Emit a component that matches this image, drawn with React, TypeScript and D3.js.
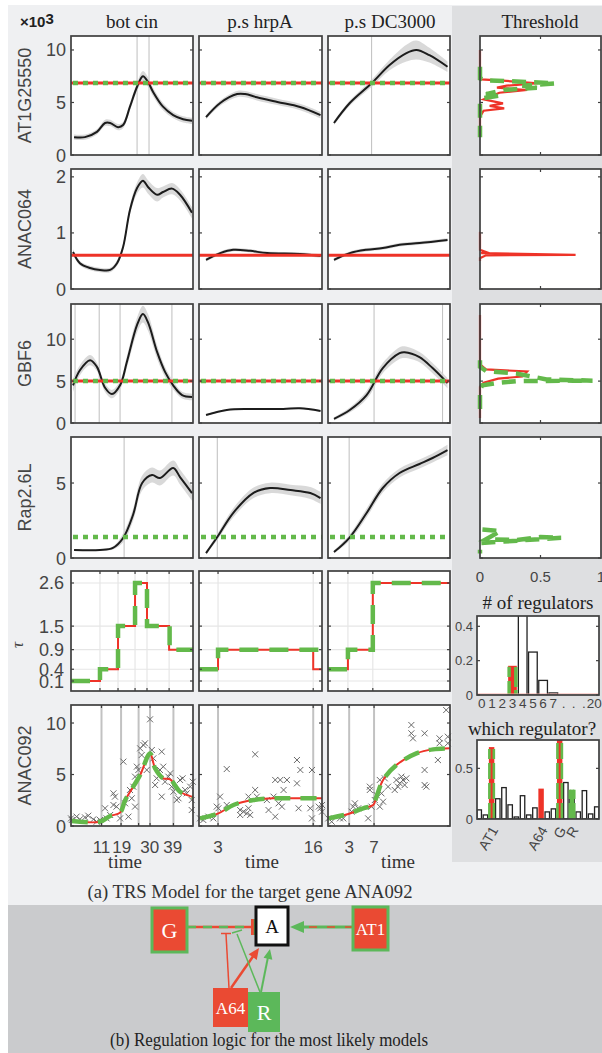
import React from 'react';
import * as d3 from 'd3';

// ------------------------------------------------------------------ data
const conditions = ['bot cin', 'p.s hrpA', 'p.s DC3000'];
const geneNames = ['AT1G25550', 'ANAC064', 'GBF6', 'Rap2.6L'];
const targetName = 'ANAC092';
const timeDomains: [number, number][] = [[-1, 47], [0.4, 17.2], [-0.4, 19.2]];

const geneYDomains: [number, number][] = [[0, 11.33], [0, 2.14], [0, 14.2], [0, 8.07]];
const geneYTicks = [[0, 5, 10], [0, 1, 2], [0, 5, 10], [0, 5]];

// [time, mean, half-width of band]
const at1Expr = [
  [[0.2, 1.7, 0.25], [4.5, 1.7, 0.25], [9.2, 2.2, 0.25], [12.4, 3.05, 0.3], [14.4, 3.05, 0.3], [17.5, 2.65, 0.3], [19.5, 2.85, 0.3], [22.2, 4.6, 0.35], [25, 6.5, 0.4], [27.3, 7.5, 0.5], [29.3, 6.95, 0.45], [31.3, 6.0, 0.4], [35.2, 4.6, 0.35], [39.2, 3.8, 0.3], [43.1, 3.4, 0.3], [46.6, 3.25, 0.3]],
  [[1.36, 3.6, 0.2], [3.3, 4.95, 0.25], [5.6, 5.8, 0.3], [6.7, 5.8, 0.3], [8.3, 5.5, 0.3], [11.1, 5.05, 0.3], [14.2, 4.57, 0.3], [17, 3.8, 0.3]],
  [[0.56, 3.05, 0.2], [3.1, 4.95, 0.25], [6.64, 6.85, 0.35], [9.5, 8.57, 0.5], [12.2, 9.7, 0.8], [13.8, 10.0, 0.9], [15.9, 9.5, 0.7], [18.8, 8.4, 0.5]],
];
const anac064Expr = [
  [[-0.2, 0.66, 0.05], [2.5, 0.46, 0.04], [6.5, 0.375, 0.04], [10.4, 0.34, 0.04], [14.4, 0.34, 0.04], [17.1, 0.46, 0.05], [19.5, 0.75, 0.06], [22.2, 1.41, 0.08], [25, 1.8, 0.1], [27.3, 1.93, 0.12], [29.3, 1.82, 0.12], [32.9, 1.68, 0.12], [35.2, 1.73, 0.1], [38.8, 1.79, 0.1], [41.9, 1.68, 0.1], [46.6, 1.36, 0.1]],
  [[1.36, 0.52, 0.03], [3.3, 0.64, 0.03], [5.06, 0.7, 0.03], [7.4, 0.68, 0.03], [9.7, 0.64, 0.03], [14.2, 0.625, 0.03], [17, 0.59, 0.03]],
  [[0.56, 0.52, 0.03], [3.1, 0.64, 0.03], [5.8, 0.7, 0.03], [8.4, 0.73, 0.03], [11.1, 0.79, 0.03], [14.3, 0.82, 0.03], [18.8, 0.875, 0.03]],
];
const gbf6Expr = [
  [[-0.2, 4.5, 0.8], [2.5, 6.3, 0.6], [6.5, 7.5, 0.6], [9.2, 6.7, 0.5], [12.4, 4.2, 0.5], [15.1, 3.45, 0.5], [18.3, 4.5, 0.5], [21, 7.3, 0.7], [25, 11.7, 0.9], [27.3, 13.0, 1.0], [29.3, 12.0, 1.0], [32.9, 8.45, 0.8], [36, 6.1, 0.6], [39.2, 4.5, 0.5], [42.7, 3.33, 0.4], [46.6, 3.1, 0.4]],
  [[1.36, 0.95, 0.1], [4.2, 1.55, 0.1], [7.4, 1.67, 0.1], [11.9, 1.67, 0.1], [14.2, 1.75, 0.1], [17, 1.43, 0.1]],
  [[0.56, 0.5, 0.2], [3.1, 1.55, 0.3], [5.8, 3.33, 0.5], [8.4, 6.55, 0.6], [11.1, 8.33, 0.7], [11.9, 8.45, 0.7], [14.3, 7.86, 0.6], [16.4, 6.55, 0.6], [18.8, 4.76, 0.6]],
];
const rap26Expr = [
  [[0.2, 0.53, 0.05], [10.4, 0.53, 0.05], [15.5, 0.67, 0.1], [19.5, 1.33, 0.3], [23.4, 2.87, 0.4], [27, 5.0, 0.5], [30.9, 5.53, 0.5], [34, 5.33, 0.5], [39.2, 6.0, 0.5], [41.9, 5.4, 0.5], [46.6, 4.33, 0.5]],
  [[1.36, 0.33, 0.1], [2.9, 1.4, 0.2], [5.06, 3.0, 0.3], [7.8, 4.33, 0.35], [10.1, 4.67, 0.35], [12.9, 4.53, 0.35], [15.6, 4.33, 0.4], [17, 4.0, 0.4]],
  [[0.56, 0.4, 0.1], [3, 1.33, 0.2], [5.8, 3.0, 0.3], [8.4, 4.67, 0.3], [11.1, 5.67, 0.3], [14.3, 6.27, 0.3], [16.4, 6.67, 0.3], [18.8, 7.2, 0.35]],
];

const geneThresholds = [6.85, 0.6, 5.0, 1.4];
const thrRedShown = [true, true, true, false];
const thrGreenShown = [true, false, true, true];

const at1Switch = [[25, 29.7], [], [6.6]];
const anac064Switch = [[], [], []];
const gbf6Switch = [[0.6, 10.1, 18.3, 38.7], [], [7, 18]];
const rap26Switch = [[19.9], [2.9], [3]];

// threshold posterior profiles: [density, threshold value]
const thrProfileRed = [
  [[0, 10], [0, 7.46], [0.01, 7.2], [0.22, 7.05], [0.48, 6.83], [0.22, 6.6], [0.14, 6.41], [0.39, 6.19], [0.16, 5.93], [0.08, 5.55], [0.03, 5.3], [0.19, 4.92], [0.08, 4.67], [0.2, 4.44], [0.03, 4.22], [0, 3.65], [0, 1.74]],
  [[0, 1.02], [0, 0.7], [0.05, 0.66], [0.01, 0.64], [0.79, 0.61], [0.05, 0.6], [0.02, 0.57], [0, 0.55], [0, 0.5]],
  [[0, 12.9], [0, 7.0], [0.05, 6.4], [0.39, 6.15], [0.35, 5.55], [0.15, 5.3], [0.03, 4.8], [0, 4.3], [0, 0.6]],
  [],
];
const thrProfileGreen = [
  [[0, 8.4], [0, 7.3], [0.05, 7.1], [0.3, 7.0], [0.62, 6.82], [0.35, 6.6], [0.47, 6.4], [0.2, 6.2], [0.05, 5.8], [0.15, 5.65], [0.02, 5.4], [0, 5.0], [0, 1.7]],
  [],
  [[0, 7.5], [0, 6.7], [0.05, 6.2], [0.3, 5.9], [0.55, 5.2], [0.93, 5.05], [0.3, 5.0], [0.15, 4.8], [0.02, 4.5], [0, 4.0], [0, 1.5]],
  [[0.02, 1.9], [0.17, 1.8], [0.05, 1.25], [0.3, 1.2], [0.5, 1.4], [0.67, 1.35], [0.2, 1.1], [0, 1.0], [0, 0.3]],
];
const thrTicks = [0, 0.5, 1];

const tauTicks = [0.1, 0.4, 0.9, 1.5, 2.6];
const tauRed = [
  [[-1, 0.1], [10.4, 0.4], [17.5, 1.5], [24.2, 2.6], [28.9, 1.5], [37.6, 0.9], [47, 0.9]],
  [[0.4, 0.4], [3, 0.9], [16, 0.4], [17.2, 0.4]],
  [[-0.4, 0.4], [2.8, 0.9], [6.8, 2.6], [19.2, 2.6]],
];
const tauGreen = [
  [[-1, 0.1], [10.4, 0.4], [17.5, 1.5], [24.2, 2.6], [28.9, 1.5], [37.8, 0.9], [47, 0.9]],
  [[0.4, 0.4], [3, 0.9], [17.2, 0.9]],
  [[-0.4, 0.4], [2.8, 0.9], [6.8, 2.6], [19.2, 2.6]],
];
const tauSwitch = [[10.4, 17.5, 24.2, 28.9, 37.6], [3, 16], [2.8, 6.8]];

const targetObs = [
  [[-1, 0.74], [-0.7, 0.58], [1.2, 0.91], [2.5, 0.65], [4.5, 0.84], [5.8, 1.0], [7.8, 0.65], [9.1, 0.42], [10.4, 0.58], [12.4, 1.72], [13.0, 0.74], [14.4, 1.07], [15.7, 2.04], [16.3, 2.85], [15.7, 3.17], [16.9, 1.88], [18.3, 0.74], [19.6, 6.25], [20.3, 2.2], [21.6, 0.91], [22.2, 3.5], [22.9, 2.69], [23.5, 3.82], [24.2, 1.88], [24.2, 4.79], [24.9, 5.76], [25.5, 5.44], [26.2, 7.54], [26.8, 6.89], [27.5, 7.86], [28.1, 8.03], [28.8, 5.44], [30.1, 10.36], [30.8, 7.38], [31.4, 6.57], [32.1, 3.98], [32.7, 4.63], [34.0, 5.44], [34.7, 7.22], [34.7, 2.85], [35.3, 5.76], [36.0, 4.3], [37.3, 4.79], [38.0, 5.11], [38.6, 3.82], [39.3, 3.33], [40.6, 2.52], [41.3, 2.69], [41.9, 4.47], [42.9, 4.63], [43.9, 3.5], [44.5, 3.17], [45.9, 3.82], [46.5, 1.55], [46.5, 2.52], [46.9, 4.3]],
  [[0.54, 0.74], [0.99, 0.58], [1.68, 0.91], [2.36, 0.74], [2.82, 1.88], [3.05, 1.72], [3.28, 2.85], [4.19, 5.53], [4.19, 2.04], [6.02, 1.55], [6.02, 1.07], [6.47, 1.39], [6.93, 1.23], [7.16, 1.72], [7.16, 2.85], [7.39, 1.07], [8.07, 3.5], [8.07, 6.96], [8.3, 2.85], [9.67, 2.52], [9.9, 1.55], [10.58, 2.85], [10.81, 4.47], [10.81, 0.91], [11.27, 2.2], [11.5, 4.47], [11.72, 1.88], [11.95, 3.5], [12.41, 4.47], [13.78, 6.41], [13.78, 4.14], [14.0, 1.72], [14.24, 5.44], [15.6, 1.72], [15.83, 0.74], [15.83, 5.44], [16.75, 1.88], [16.98, 1.72], [17.2, 2.04], [17.2, 1.39]],
  [[-0.35, 0.74], [0.19, 0.42], [1.52, 0.74], [2.05, 0.74], [3.39, 1.39], [3.65, 1.88], [3.92, 2.2], [4.45, 1.72], [6.05, 0.74], [6.32, 3.5], [6.32, 3.82], [6.59, 1.88], [7.12, 2.52], [7.39, 3.01], [7.92, 4.47], [7.92, 1.88], [8.19, 3.17], [8.45, 2.36], [8.72, 4.63], [9.25, 3.82], [10.32, 3.5], [10.59, 4.47], [10.85, 3.82], [11.12, 4.14], [11.39, 4.79], [11.65, 4.47], [11.92, 3.98], [12.19, 4.63], [12.99, 9.81], [12.99, 9.0], [13.25, 8.51], [15.12, 9.0], [15.12, 5.44], [15.12, 3.98], [15.39, 3.82], [17.25, 6.41], [17.52, 8.51], [17.52, 8.03], [18.59, 11.26], [18.85, 8.67], [18.85, 8.03]],
];
const targetFitRed = [
  [[-0.7, 0.49], [10.4, 0.42], [14.4, 0.97], [18.3, 1.3], [20.3, 2.5], [23.5, 3.82], [26.2, 4.95], [30.1, 7.05], [32.1, 5.6], [35.3, 4.63], [38, 4.53], [41.9, 3.33], [46.5, 2.85], [47, 2.8]],
  [[0.54, 0.74], [3.05, 1.23], [5.1, 2.04], [7.84, 2.52], [10.58, 2.69], [13.3, 2.69], [17.2, 2.69]],
  [[-0.35, 0.74], [2.85, 1.17], [5.25, 1.72], [6.85, 2.04], [7.4, 2.85], [8.45, 4.47], [10.6, 5.92], [13.8, 7.05], [16.5, 7.44], [19.2, 7.54]],
];
const targetFitGreen = targetFitRed;
const targetSwitch = [[11, 18.7, 25.6, 30.1, 39.3], [3, 16], [3, 7]];
const targetTickLabels = [[11, 19, 30, 39], [3, 16], [3, 7]];
const targetYTicks = [0, 5, 10];

const regCountLabels = ['0', '1', '2', '3', '4', '5', '6', '7', '.', '.', '.', '20'];
const regCountWhite = [0, 0, 0, 0, 0.5, 0.25, 0.085, 0.012, 0, 0, 0, 0];
const regCountRed = [0, 0, 0, 0.17, 0, 0, 0, 0, 0, 0, 0, 0];
const regCountGreen = [0, 0, 0, 0.165, 0, 0, 0, 0, 0, 0, 0, 0];
const regCountTicks = [0, 0.2, 0.4];

const regWhite = [0.09, 0.04, 0, 0.2, 0.31, 0.14, 0.02, 0.23, 0.04, 0.11, 0, 0.07, 0.1, 0, 0.36, 0.28, 0.07, 0.28, 0.05, 0.12];
const regRed = [0, 0, 0.71, 0, 0, 0, 0, 0, 0, 0, 0.3, 0, 0, 0.85, 0, 0, 0, 0, 0, 0];
const regGreen = [0, 0, 0.69, 0, 0, 0, 0, 0, 0, 0, 0, 0, 0, 0.8, 0, 0.29, 0, 0, 0, 0];
const regNames: [number, string][] = [[2, 'AT1'], [10, 'A64'], [13, 'G'], [15, 'R']];
const regTicks = [0, 0.5];

const captionA = '(a) TRS Model for the target gene ANA092';
const captionB = '(b) Regulation logic for the most likely models';

// ------------------------------------------------------------------ style / layout
const RED = '#ee3328';
const GREEN = '#63b94b';
const DRED = '#ea4a33';
const DGREEN = '#5cb85a';
const FRAME = '#3f3f3f';
const LABEL = '#454545';
const SANS = '"Liberation Sans", Arial, Helvetica, sans-serif';
const SERIF = '"Liberation Serif", "Times New Roman", serif';

const COLX: [number, number][] = [[71, 193], [199, 322], [328, 450]];
const ROWY: [number, number][] = [[36, 155], [169, 289], [304, 423], [437, 558], [571, 691], [705, 826]];
const THRX: [number, number] = [480, 601];

const geneExpr = [at1Expr, anac064Expr, gbf6Expr, rap26Expr];
const geneSwitch = [at1Switch, anac064Switch, gbf6Switch, rap26Switch];

type P = number[];

function Frame({ x0, x1, y0, y1, yt = [], xt = [] }: { x0: number; x1: number; y0: number; y1: number; yt?: number[]; xt?: number[] }) {
  return (
    <g>
      {yt.map((yy, i) => (
        <g key={'y' + i}>
          <line x1={x0} x2={x0 + 3} y1={yy} y2={yy} stroke={FRAME} strokeWidth={1.2} />
          <line x1={x1} x2={x1 - 3} y1={yy} y2={yy} stroke={FRAME} strokeWidth={1.2} />
        </g>
      ))}
      {xt.map((xx, i) => (
        <g key={'x' + i}>
          <line x1={xx} x2={xx} y1={y0} y2={y0 + 3} stroke={FRAME} strokeWidth={1.2} />
          <line x1={xx} x2={xx} y1={y1} y2={y1 - 3} stroke={FRAME} strokeWidth={1.2} />
        </g>
      ))}
      <rect x={x0} y={y0} width={x1 - x0} height={y1 - y0} fill="none" stroke={FRAME} strokeWidth={1.7} />
    </g>
  );
}

function GenePanel({ row, col }: { row: number; col: number }) {
  const [x0, x1] = COLX[col];
  const [y0, y1] = ROWY[row];
  const x = d3.scaleLinear().domain(timeDomains[col]).range([x0, x1]);
  const y = d3.scaleLinear().domain(geneYDomains[row]).range([y1, y0]);
  const data = geneExpr[row][col] as P[];
  const line = d3.line<P>().x(d => x(d[0])).y(d => y(d[1])).curve(d3.curveCatmullRom);
  const area = d3.area<P>().x(d => x(d[0])).y0(d => y(d[1] - d[2])).y1(d => y(d[1] + d[2])).curve(d3.curveCatmullRom);
  const id = `cg${row}${col}`;
  const thr = geneThresholds[row];
  return (
    <g>
      <defs>
        <clipPath id={id}><rect x={x0} y={y0} width={x1 - x0} height={y1 - y0} /></clipPath>
      </defs>
      <rect x={x0} y={y0} width={x1 - x0} height={y1 - y0} fill="#fff" />
      <g clipPath={`url(#${id})`}>
        {geneSwitch[row][col].map((t, i) => (
          <line key={i} x1={x(t)} x2={x(t)} y1={y0} y2={y1} stroke="#c4c4c4" strokeWidth={1.1} />
        ))}
        <path d={area(data) || ''} fill="#cfcfcf" opacity={0.8} />
        <path d={line(data) || ''} fill="none" stroke="#1c1c1c" strokeWidth={2} />
        {thrRedShown[row] && <line x1={x0} x2={x1} y1={y(thr)} y2={y(thr)} stroke={RED} strokeWidth={3} />}
        {thrGreenShown[row] && (
          <line x1={x0 + 2} x2={x1} y1={y(thr)} y2={y(thr)} stroke={GREEN} strokeWidth={4.5} strokeDasharray="5 5" />
        )}
      </g>
      <Frame x0={x0} x1={x1} y0={y0} y1={y1} yt={geneYTicks[row].map(v => y(v))} />
      {col === 0 &&
        geneYTicks[row].map(v => (
          <text key={v} x={66} y={y(v) + 6.5} textAnchor="end" fontFamily={SANS} fontSize={18} fill={LABEL}>
            {v}
          </text>
        ))}
    </g>
  );
}

function ThresholdPanel({ row }: { row: number }) {
  const [x0, x1] = THRX;
  const [y0, y1] = ROWY[row];
  const x = d3.scaleLinear().domain([0, 1]).range([x0, x1]);
  const y = d3.scaleLinear().domain(geneYDomains[row]).range([y1, y0]);
  const line = d3.line<P>().x(d => x(d[0])).y(d => y(d[1]));
  const red = thrProfileRed[row] as P[];
  const green = thrProfileGreen[row] as P[];
  return (
    <g>
      <rect x={x0} y={y0} width={x1 - x0} height={y1 - y0} fill="#fff" />
      {red.length > 0 && <path d={line(red) || ''} fill="none" stroke={RED} strokeWidth={2.2} />}
      {green.length > 0 && (
        <path d={line(green) || ''} fill="none" stroke={GREEN} strokeWidth={4.5} strokeDasharray="14 8" />
      )}
      <Frame x0={x0} x1={x1} y0={y0} y1={y1} yt={geneYTicks[row].map(v => y(v))} xt={[x(0.5)]} />
      {row === 3 &&
        thrTicks.map(v => (
          <text key={v} x={x(v)} y={582} textAnchor="middle" fontFamily={SANS} fontSize={15} fill={LABEL}>
            {v}
          </text>
        ))}
    </g>
  );
}

function TauPanel({ col }: { col: number }) {
  const [x0, x1] = COLX[col];
  const [y0, y1] = ROWY[4];
  const x = d3.scaleLinear().domain(timeDomains[col]).range([x0, x1]);
  const y = d3.scaleLinear().domain([-0.155, 2.906]).range([y1, y0]);
  const line = d3.line<P>().x(d => x(d[0])).y(d => y(d[1])).curve(d3.curveStepAfter);
  const id = `ct${col}`;
  return (
    <g>
      <defs>
        <clipPath id={id}><rect x={x0} y={y0} width={x1 - x0} height={y1 - y0} /></clipPath>
      </defs>
      <rect x={x0} y={y0} width={x1 - x0} height={y1 - y0} fill="#fff" />
      {tauTicks.map(v => (
        <line key={'h' + v} x1={x0} x2={x1} y1={y(v)} y2={y(v)} stroke="#e6e6e6" strokeWidth={1.2} />
      ))}
      {tauSwitch[col].map(t => (
        <line key={'v' + t} x1={x(t)} x2={x(t)} y1={y0} y2={y1} stroke="#e6e6e6" strokeWidth={1.2} />
      ))}
      <g clipPath={`url(#${id})`}>
        <path d={line(tauRed[col] as P[]) || ''} fill="none" stroke={RED} strokeWidth={2} />
        <path d={line(tauGreen[col] as P[]) || ''} fill="none" stroke={GREEN} strokeWidth={4.5} strokeDasharray="19 11" />
      </g>
      <Frame x0={x0} x1={x1} y0={y0} y1={y1} yt={tauTicks.map(v => y(v))} xt={tauSwitch[col].map(t => x(t))} />
      {col === 0 &&
        tauTicks.map(v => (
          <text key={v} x={64} y={y(v) + 6.5} textAnchor="end" fontFamily={SANS} fontSize={18} fill={LABEL}>
            {v}
          </text>
        ))}
    </g>
  );
}

function TargetPanel({ col }: { col: number }) {
  const [x0, x1] = COLX[col];
  const [y0, y1] = ROWY[5];
  const x = d3.scaleLinear().domain(timeDomains[col]).range([x0, x1]);
  const y = d3.scaleLinear().domain([0, 11.75]).range([y1, y0]);
  const line = d3.line<P>().x(d => x(d[0])).y(d => y(d[1])).curve(d3.curveCatmullRom);
  const id = `cr${col}`;
  return (
    <g>
      <defs>
        <clipPath id={id}><rect x={x0} y={y0} width={x1 - x0} height={y1 - y0} /></clipPath>
      </defs>
      <rect x={x0} y={y0} width={x1 - x0} height={y1 - y0} fill="#fff" />
      {targetSwitch[col].map(t => (
        <line key={t} x1={x(t)} x2={x(t)} y1={y0} y2={y1} stroke="#c2c2c2" strokeWidth={2} />
      ))}
      {targetObs[col].map((d, i) => (
        <path
          key={i}
          transform={`translate(${x(d[0])},${y(d[1])})`}
          d="M-3,-3L3,3M-3,3L3,-3"
          stroke="#6a6a6a"
          strokeWidth={1}
          fill="none"
        />
      ))}
      <g clipPath={`url(#${id})`}>
        <path d={line(targetFitRed[col] as P[]) || ''} fill="none" stroke={RED} strokeWidth={2} />
        <path d={line(targetFitGreen[col] as P[]) || ''} fill="none" stroke={GREEN} strokeWidth={4.5} strokeDasharray="16 10" />
      </g>
      <Frame x0={x0} x1={x1} y0={y0} y1={y1} yt={targetYTicks.map(v => y(v))} xt={targetSwitch[col].map(t => x(t))} />
      {col === 0 &&
        targetYTicks.map(v => (
          <text key={v} x={66} y={y(v) + 6.5} textAnchor="end" fontFamily={SANS} fontSize={18} fill={LABEL}>
            {v}
          </text>
        ))}
      {targetTickLabels[col].map(v => (
        <text key={v} x={x(v)} y={853} textAnchor="middle" fontFamily={SANS} fontSize={17} fill={LABEL}>
          {v}
        </text>
      ))}
    </g>
  );
}

function RegCountPanel() {
  const x0 = 477, x1 = 599, y0 = 616, y1 = 695;
  const x = d3.scaleBand<number>().domain(d3.range(regCountLabels.length)).range([x0, x1]).paddingInner(0.15).paddingOuter(0.05);
  const y = d3.scaleLinear().domain([0, 0.46]).range([y1, y0]);
  const id = 'crc';
  return (
    <g>
      <defs>
        <clipPath id={id}><rect x={x0} y={y0} width={x1 - x0} height={y1 - y0} /></clipPath>
      </defs>
      <rect x={x0} y={y0} width={x1 - x0} height={y1 - y0} fill="#fff" />
      <g clipPath={`url(#${id})`}>
        {regCountWhite.map((v, i) =>
          v > 0 ? (
            <rect key={'w' + i} x={x(i)!} y={y(v)} width={x.bandwidth()} height={y1 - y(v)} fill="#fff" stroke="#222" strokeWidth={1.3} />
          ) : null
        )}
        {regCountRed.map((v, i) =>
          v > 0 ? <rect key={'r' + i} x={x(i)!} y={y(v)} width={x.bandwidth()} height={y1 - y(v)} fill={RED} /> : null
        )}
        {regCountGreen.map((v, i) =>
          v > 0 ? (
            <g key={'g' + i}>
              <line x1={x(i)! + 1} x2={x(i)! + 1} y1={y1} y2={y(v)} stroke={GREEN} strokeWidth={3.5} strokeDasharray="14 4" />
              <line x1={x(i)! + x.bandwidth() - 1} x2={x(i)! + x.bandwidth() - 1} y1={y1} y2={y(v)} stroke={GREEN} strokeWidth={3.5} strokeDasharray="5 3 20 3" />
            </g>
          ) : null
        )}
        <line x1={x0} x2={x1} y1={y1 - 1} y2={y1 - 1} stroke="#f4a6a0" strokeWidth={1} />
      </g>
      <Frame x0={x0} x1={x1} y0={y0} y1={y1} yt={regCountTicks.map(v => y(v))} />
      {regCountTicks.map(v => (
        <text key={v} x={473} y={y(v) + 4.5} textAnchor="end" fontFamily={SANS} fontSize={13} fill={LABEL}>
          {v}
        </text>
      ))}
      {regCountLabels.map((s, i) => (
        <text key={i} x={x(i)! + x.bandwidth() / 2} y={708} textAnchor="middle" fontFamily={SANS} fontSize={13.5} fill={LABEL}>
          {s}
        </text>
      ))}
      <text x={538} y={609} textAnchor="middle" fontFamily={SERIF} fontSize={19} fill="#222">
        # of regulators
      </text>
    </g>
  );
}

function WhichRegPanel() {
  const x0 = 477, x1 = 599, y0 = 740, y1 = 819;
  const x = d3.scaleBand<number>().domain(d3.range(regWhite.length)).range([x0, x1]).paddingInner(0.28);
  const y = d3.scaleLinear().domain([0, 0.78]).range([y1, y0]);
  const id = 'cwr';
  return (
    <g>
      <defs>
        <clipPath id={id}><rect x={x0} y={y0} width={x1 - x0} height={y1 - y0} /></clipPath>
      </defs>
      <rect x={x0} y={y0} width={x1 - x0} height={y1 - y0} fill="#fff" />
      <g clipPath={`url(#${id})`}>
        {regWhite.map((v, i) =>
          v > 0 ? (
            <rect key={'w' + i} x={x(i)!} y={y(v)} width={x.bandwidth()} height={y1 - y(v)} fill="#fff" stroke="#222" strokeWidth={1.3} />
          ) : null
        )}
        {regRed.map((v, i) =>
          v > 0 ? <rect key={'r' + i} x={x(i)! - 0.5} y={y(v)} width={x.bandwidth() + 1} height={y1 - y(v)} fill={RED} /> : null
        )}
        {regGreen.map((v, i) =>
          v > 0 ? (
            <g key={'g' + i}>
              <line x1={x(i)!} x2={x(i)!} y1={y1} y2={y(v)} stroke={GREEN} strokeWidth={2.6} strokeDasharray="16 4" />
              <line x1={x(i)! + x.bandwidth()} x2={x(i)! + x.bandwidth()} y1={y1} y2={y(v)} stroke={GREEN} strokeWidth={2.6} strokeDasharray="16 4" />
              <rect x={x(i)!} y={y(v)} width={x.bandwidth()} height={y1 - y(v)} fill={i === 15 ? GREEN : 'none'} />
            </g>
          ) : null
        )}
      </g>
      <Frame x0={x0} x1={x1} y0={y0} y1={y1} yt={regTicks.map(v => y(v))} />
      {regTicks.map(v => (
        <text key={v} x={473} y={y(v) + 4.5} textAnchor="end" fontFamily={SANS} fontSize={13} fill={LABEL}>
          {v}
        </text>
      ))}
      {regNames.map(([i, s]) => {
        const cx = x(i)! + x.bandwidth() / 2 + 7;
        const cy = 830;
        return (
          <text key={s} x={cx} y={cy} transform={`rotate(-60 ${cx} ${cy})`} textAnchor="end" fontFamily={SANS} fontSize={14} fill={LABEL}>
            {s}
          </text>
        );
      })}
      <text x={532} y={735} textAnchor="middle" fontFamily={SERIF} fontSize={19} fill="#222">
        which regulator?
      </text>
    </g>
  );
}

function arrowHead(x1: number, y1: number, x2: number, y2: number, L = 10, W = 4.5) {
  const a = Math.atan2(y2 - y1, x2 - x1);
  const bx = x2 - L * Math.cos(a), by = y2 - L * Math.sin(a);
  const px = -Math.sin(a) * W, py = Math.cos(a) * W;
  return `${x2},${y2} ${bx + px},${by + py} ${bx - px},${by - py}`;
}

function Diagram() {
  return (
    <g>
      {/* G -| A */}
      <line x1={187} x2={252} y1={927} y2={927} stroke={DRED} strokeWidth={2.5} />
      <line x1={187} x2={252} y1={927} y2={927} stroke={DGREEN} strokeWidth={2.5} strokeDasharray="9 7" />
      <line x1={252.5} x2={252.5} y1={919} y2={935} stroke={DRED} strokeWidth={3} />
      <line x1={254.5} x2={254.5} y1={919} y2={935} stroke={DGREEN} strokeWidth={1.5} />
      {/* AT1 -> A */}
      <line x1={353} x2={298} y1={927} y2={927} stroke={DGREEN} strokeWidth={3} />
      <line x1={353} x2={298} y1={927} y2={927} stroke={DRED} strokeWidth={1.5} strokeDasharray="8 10" />
      <polygon points={arrowHead(353, 927, 290, 927, 14, 6)} fill={DGREEN} />
      {/* A64 */}
      <line x1={229} x2={226} y1={988} y2={934} stroke={DRED} strokeWidth={1.5} />
      <line x1={221} x2={231} y1={933.5} y2={933.5} stroke={DRED} strokeWidth={1.5} />
      <line x1={231} x2={254} y1={988} y2={955} stroke={DRED} strokeWidth={2.5} />
      <polygon points={arrowHead(231, 988, 259, 948, 11, 5)} fill={DRED} />
      {/* R */}
      <line x1={260} x2={237} y1={992} y2={934} stroke={DGREEN} strokeWidth={1.5} />
      <line x1={232} x2={242} y1={933} y2={930} stroke={DGREEN} strokeWidth={1.5} />
      <line x1={261} x2={268} y1={992} y2={957} stroke={DGREEN} strokeWidth={2} />
      <polygon points={arrowHead(261, 992, 270, 949, 10, 4.5)} fill={DGREEN} />
      {/* nodes */}
      <rect x={152} y={908} width={35} height={44} fill={DRED} stroke={DGREEN} strokeWidth={3} />
      <text x={169.5} y={938} textAnchor="middle" fontFamily={SERIF} fontSize={22} fill="#fff">G</text>
      <rect x={256} y={907} width={32} height={38} fill="#fff" stroke="#111" strokeWidth={3} />
      <text x={272} y={933} textAnchor="middle" fontFamily={SERIF} fontSize={19} fill="#111">A</text>
      <rect x={353} y={907} width={35} height={43} fill={DRED} stroke={DGREEN} strokeWidth={3} />
      <text x={370.5} y={935} textAnchor="middle" fontFamily={SERIF} fontSize={17} fill="#fff">AT1</text>
      <rect x={213} y={988} width={35} height={39} fill={DRED} />
      <text x={230.5} y={1014} textAnchor="middle" fontFamily={SERIF} fontSize={17} fill="#fff">A64</text>
      <rect x={248} y={992} width={32} height={40} fill={DGREEN} />
      <text x={264} y={1020} textAnchor="middle" fontFamily={SERIF} fontSize={22} fill="#fff">R</text>
    </g>
  );
}

export default function App() {
  const colTitleX = [132, 260, 390];
  const timeX = [125, 262, 398];
  const rowLabelY = ROWY.map(([a, b]) => (a + b) / 2);
  const rowLabels = [...geneNames, '', targetName];
  return (
    <svg width={602} height={1053} style={{ position: 'absolute', left: 0, top: 0, display: 'block' }}>
      <rect x={0} y={0} width={602} height={1053} fill="#fff" />
      <rect x={8} y={5} width={594} height={900} fill="#eff0f2" />
      <rect x={452} y={6} width={150} height={856} fill="#dedfe1" />
      <rect x={8} y={905} width={594} height={148} fill="#cacbcd" />

      <text x={20} y={27} fontFamily={SANS} fontSize={15} fontWeight="bold" fill="#222">
        ×10<tspan dy={-3}>3</tspan>
      </text>
      {conditions.map((c, i) => (
        <text key={c} x={colTitleX[i]} y={28} textAnchor="middle" fontFamily={SERIF} fontSize={19} fill="#222">
          {c}
        </text>
      ))}
      <text x={540} y={28} textAnchor="middle" fontFamily={SERIF} fontSize={19} fill="#222">Threshold</text>

      {rowLabels.map((s, r) =>
        s ? (
          <text key={s} x={31} y={rowLabelY[r]} transform={`rotate(-90 31 ${rowLabelY[r]})`} textAnchor="middle" fontFamily={SANS} fontSize={18} fill={LABEL}>
            {s}
          </text>
        ) : null
      )}
      <text x={23} y={645} transform="rotate(-90 23 645)" textAnchor="middle" fontFamily={SERIF} fontStyle="italic" fontSize={17} fill={LABEL}>
        τ
      </text>

      {[0, 1, 2, 3].map(r => [0, 1, 2].map(c => <GenePanel key={`${r}-${c}`} row={r} col={c} />))}
      {[0, 1, 2, 3].map(r => <ThresholdPanel key={'t' + r} row={r} />)}
      {[0, 1, 2].map(c => <TauPanel key={'tau' + c} col={c} />)}
      {[0, 1, 2].map(c => <TargetPanel key={'tg' + c} col={c} />)}
      {timeX.map((xx, i) => (
        <text key={i} x={xx} y={868} textAnchor="middle" fontFamily={SERIF} fontSize={19} fill="#333">time</text>
      ))}
      <RegCountPanel />
      <WhichRegPanel />

      <text x={250} y={898} textAnchor="middle" fontFamily={SERIF} fontSize={18} fill="#333" textLength={325} lengthAdjust="spacingAndGlyphs">
        {captionA}
      </text>
      <Diagram />
      <text x={269} y={1046} textAnchor="middle" fontFamily={SERIF} fontSize={18} fill="#222" textLength={318} lengthAdjust="spacingAndGlyphs">
        {captionB}
      </text>
    </svg>
  );
}
